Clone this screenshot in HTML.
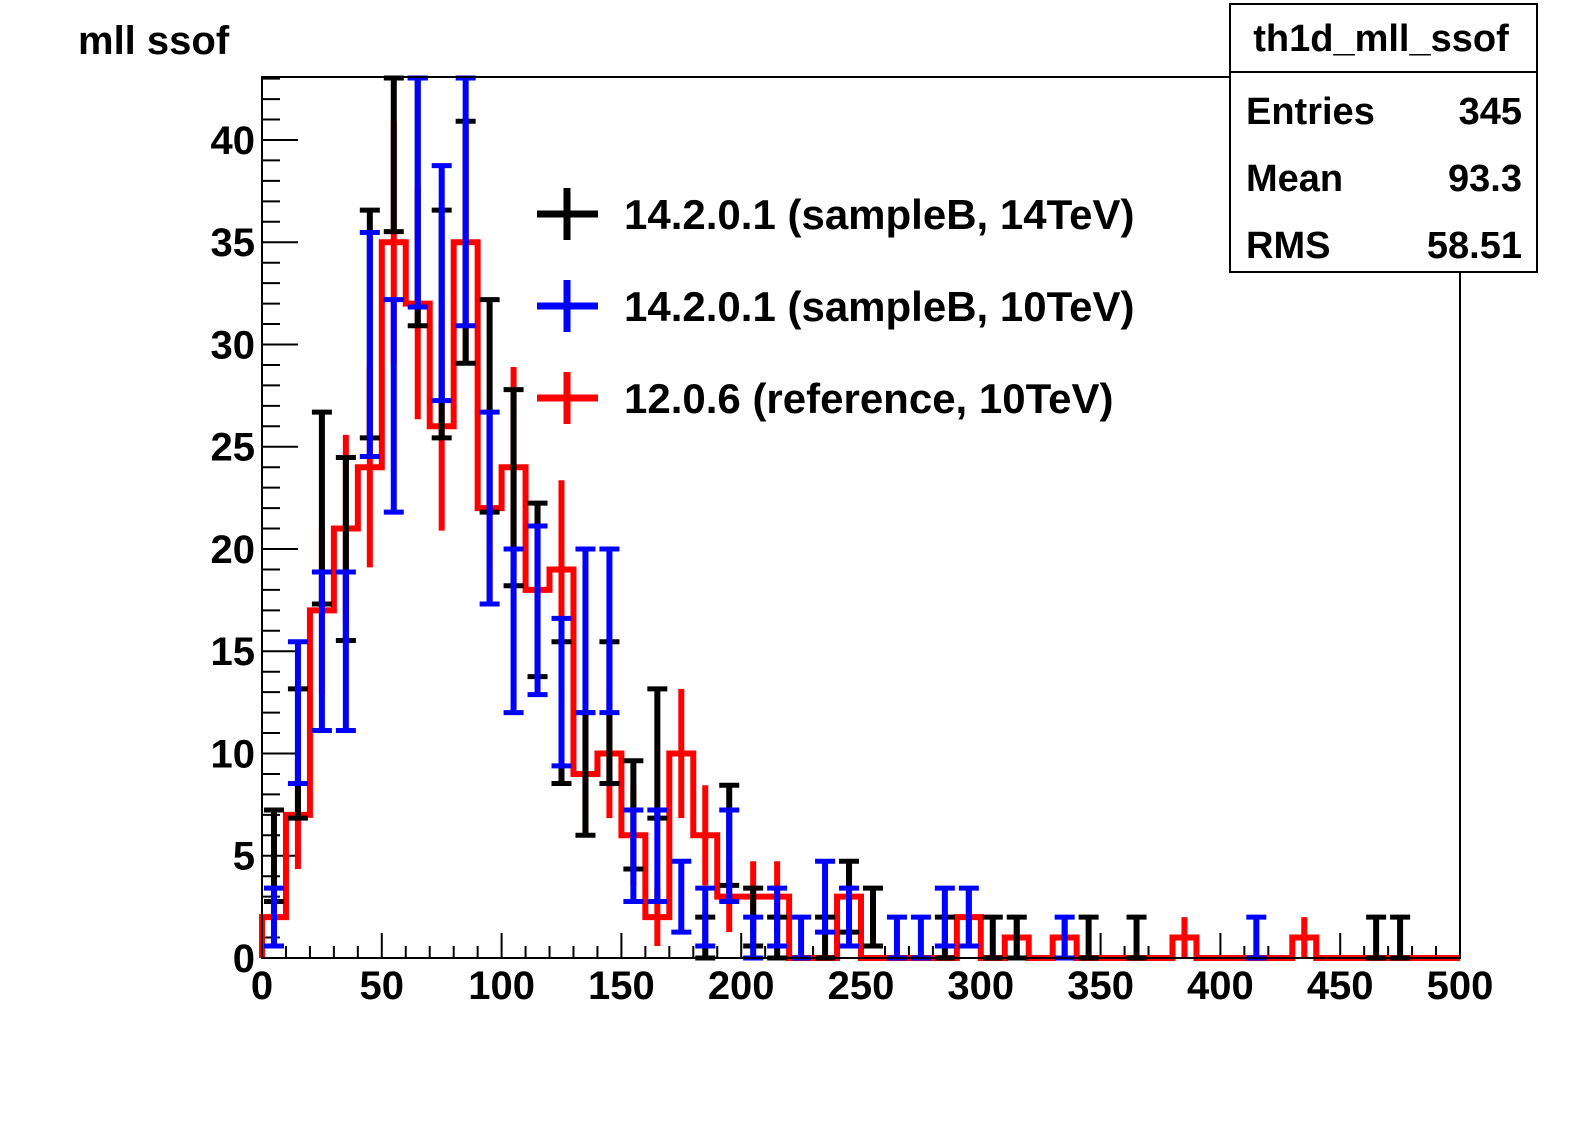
<!DOCTYPE html>
<html><head><meta charset="utf-8">
<style>
html,body{margin:0;padding:0;background:#fff;}
svg{display:block;font-family:"Liberation Sans",Arial,sans-serif;font-weight:bold;}
</style></head>
<body>
<svg id="chart" width="1575" height="1142" viewBox="0 0 1575 1142" xmlns="http://www.w3.org/2000/svg">
<rect x="0" y="0" width="1575" height="1142" fill="#fff"/>
<text x="78" y="54" font-size="40">mll ssof</text>
<g id="axes"></g>
<g id="series"></g>
<rect x="262" y="77" width="1198" height="881" fill="none" stroke="#000" stroke-width="2"/>
<g>
  <g>
    <line x1="537" y1="214" x2="598" y2="214" stroke="#000" stroke-width="7"/>
    <line x1="567" y1="188" x2="567" y2="240" stroke="#000" stroke-width="7"/>
    <text x="624" y="229" font-size="42">14.2.0.1 (sampleB, 14TeV)</text>
  </g>
  <g>
    <line x1="537" y1="306" x2="598" y2="306" stroke="#0000ff" stroke-width="7"/>
    <line x1="567" y1="280" x2="567" y2="332" stroke="#0000ff" stroke-width="7"/>
    <text x="624" y="321" font-size="42">14.2.0.1 (sampleB, 10TeV)</text>
  </g>
  <g>
    <line x1="537" y1="398" x2="598" y2="398" stroke="#ff0000" stroke-width="7"/>
    <line x1="567" y1="372" x2="567" y2="424" stroke="#ff0000" stroke-width="7"/>
    <text x="624" y="413" font-size="42">12.0.6 (reference, 10TeV)</text>
  </g>
</g>
<g>
  <rect x="1230" y="4" width="307" height="268" fill="#fff" stroke="#000" stroke-width="2"/>
  <line x1="1230" y1="72" x2="1537" y2="72" stroke="#000" stroke-width="2"/>
  <text x="1381" y="51" font-size="38" text-anchor="middle">th1d_mll_ssof</text>
  <text x="1246" y="124" font-size="38">Entries</text>
  <text x="1522" y="124" font-size="38" text-anchor="end">345</text>
  <text x="1246" y="191" font-size="38">Mean</text>
  <text x="1522" y="191" font-size="38" text-anchor="end">93.3</text>
  <text x="1246" y="258" font-size="38">RMS</text>
  <text x="1522" y="258" font-size="38" text-anchor="end">58.51</text>
</g>
</svg>
<script>
const binEdges = [0, 500];
const binWidth = 10;
const xTickLabels = [0, 50, 100, 150, 200, 250, 300, 350, 400, 450, 500];
const yTickLabels = [0, 5, 10, 15, 20, 25, 30, 35, 40];
const yMax = 43.08;
const black14TeV = [5,10,22,20,31,42,37,31,35,27,23,18,12,9,12,7,10,0,1,6,2,1,0,1,3,2,0,0,1,0,1,1,0,0,1,0,1,0,0,0,0,0,0,0,0,0,1,1,0,0];
const blue10TeV = [2,12,15,15,30,27,38,33,37,22,16,17,13,16,16,5,5,3,2,5,1,2,1,3,2,0,1,1,2,2,0,0,0,1,0,0,0,0,0,0,0,1,0,0,0,0,0,0,0,0];
const redReference = [2,7,17,21,24,35,32,26,35,22,24,18,19,9,10,6,2,10,6,3,3,3,0,0,3,0,0,0,0,2,0,1,0,1,0,0,0,0,1,0,0,0,0,1,0,0,0,0,0,0];

const NS = "http://www.w3.org/2000/svg";
const L = 262, R = 1460, T = 77, B = 958;
function xs(v){ return L + (v - binEdges[0]) / (binEdges[1] - binEdges[0]) * (R - L); }
function ys(v){ return B - Math.min(v, yMax) / yMax * (B - T); }
function mk(tag, attrs, parent){
  const e = document.createElementNS(NS, tag);
  for (const k in attrs) e.setAttribute(k, attrs[k]);
  parent.appendChild(e);
  return e;
}
const axes = document.getElementById('axes');
const series = document.getElementById('series');

// y ticks
for (let v = 0; v <= 43; v++) {
  const major = v % 5 === 0;
  const t = mk('line', {x1: L, x2: L + (major ? 36 : 18), y1: ys(v), y2: ys(v), stroke: '#000', 'stroke-width': 2}, axes);
  
  
}
yTickLabels.forEach(v => {
  const t = mk('text', {x: 255, y: ys(v) + 14, 'font-size': 40, 'text-anchor': 'end'}, axes);
  t.textContent = v;
  
  
});
// x ticks
for (let v = 0; v <= 500; v += 10) {
  const major = v % 50 === 0;
  const t = mk('line', {x1: xs(v), x2: xs(v), y1: B, y2: B - (major ? 25 : 12), stroke: '#000', 'stroke-width': 2}, axes);
  
  
}
xTickLabels.forEach(v => {
  const t = mk('text', {x: xs(v), y: 999, 'font-size': 40, 'text-anchor': 'middle'}, axes);
  t.textContent = v;
  
  
});

// red histogram step
(function(){
  const g = mk('g', {}, series);
  
  
  let d = 'M' + xs(0) + ' ' + ys(0);
  redReference.forEach((n, i) => {
    d += ' L' + xs(i * binWidth) + ' ' + ys(n) + ' L' + xs((i + 1) * binWidth) + ' ' + ys(n);
  });
  d += ' L' + xs(redReference.length * binWidth) + ' ' + ys(0);
  const p = mk('path', {d: d, fill: 'none', stroke: '#ff0000', 'stroke-width': 6}, g);
  
  
  redReference.forEach((n, i) => {
    if (n <= 0) return;
    const c = xs((i + 0.5) * binWidth), e = Math.sqrt(n);
    const l = mk('line', {x1: c, x2: c, y1: ys(n - e), y2: ys(n + e), stroke: '#ff0000', 'stroke-width': 6}, g);
    
    
  });
})();

function errSeries(arr, color, name){
  const g = mk('g', {}, series);
  
  
  arr.forEach((n, i) => {
    if (n <= 0) return;
    const c = xs((i + 0.5) * binWidth), e = Math.sqrt(n);
    const y1 = ys(n - e), y2 = ys(n + e);
    const l = mk('line', {x1: c, x2: c, y1: y1, y2: y2, stroke: color, 'stroke-width': 6}, g);
    
    
    if (n + e < yMax) {
      const cap = mk('line', {x1: c - 10, x2: c + 10, y1: y2, y2: y2, stroke: color, 'stroke-width': 5}, g);
      
      
    } else {
      const cap = mk('line', {x1: c - 10, x2: c + 10, y1: T + 1, y2: T + 1, stroke: color, 'stroke-width': 5}, g);
      
      
    }
    const cap2 = mk('line', {x1: c - 10, x2: c + 10, y1: y1, y2: y1, stroke: color, 'stroke-width': 5}, g);
    
    
  });
}
errSeries(black14TeV, '#000000', 'series-14tev');
errSeries(blue10TeV, '#0000ff', 'series-10tev');
</script>
</body></html>
